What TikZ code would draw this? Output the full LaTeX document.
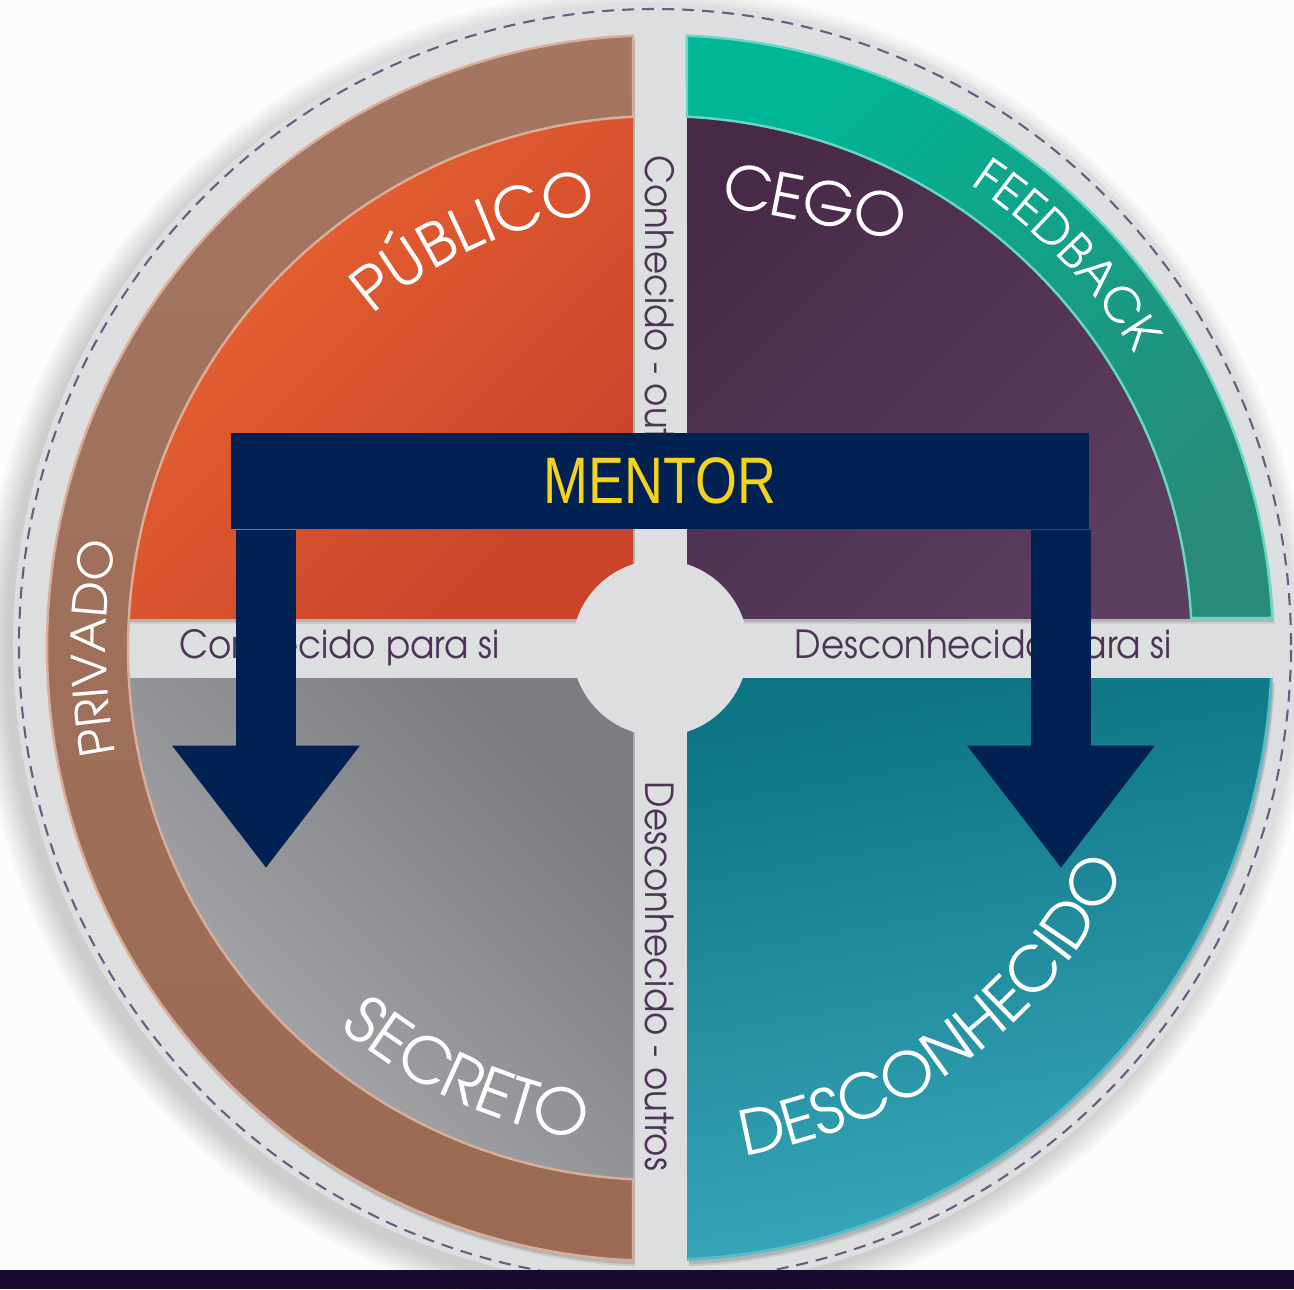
\documentclass[tikz,border=0pt]{standalone}
\usepackage{fontspec}
\usetikzlibrary{positioning,arrows.meta,decorations.text}
\IfFontExistsTF{texgyreadventor-regular.otf}
  {\newfontfamily\gothic{texgyreadventor-regular.otf}}
  {\newfontfamily\gothic{Poppins}}
\newfontfamily\narrowsans{Liberation Sans}[FakeStretch=0.82]
\definecolor{pubA}{HTML}{F26C33}
\definecolor{pubB}{HTML}{C9442B}
\definecolor{cegA}{HTML}{472946}
\definecolor{cegB}{HTML}{5D3E63}
\definecolor{secA}{HTML}{7B7C80}
\definecolor{secB}{HTML}{B7B8BC}
\definecolor{desA}{HTML}{0C7482}
\definecolor{desB}{HTML}{3BA9BE}
\definecolor{desEdge}{HTML}{58BCCB}
\definecolor{brownA}{HTML}{A47561}
\definecolor{brownB}{HTML}{B5856C}
\definecolor{brownC}{HTML}{9A6A54}
\definecolor{brownEdge}{HTML}{D8AE9B}
\definecolor{fbA}{HTML}{00B697}
\definecolor{fbB}{HTML}{288A79}
\definecolor{fbEdge}{HTML}{66D8C3}
\definecolor{band}{HTML}{DDDEE0}
\definecolor{dashc}{HTML}{6E5A80}
\definecolor{bandtxt}{HTML}{4B3454}
\definecolor{navy}{HTML}{002152}
\definecolor{gold}{HTML}{F3D320}
\definecolor{floor}{HTML}{190B30}

\begin{document}
\begin{tikzpicture}[lbl/.style={font=\gothic\addfontfeatures{FakeStretch=0.92}\fontsize{11}{11}\selectfont, text=bandtxt, inner sep=0pt},
  arctxt/.style={decorate, decoration={text along path, text align=center, text={#1}}},
  bigarrow/.style={draw=navy, line width=0.60cm, -{Triangle[width=1.88cm, length=1.22cm, line width=0pt]}}]
\useasboundingbox (-6.60,-6.41) rectangle (6.34,6.48);
\fill[white!99!black] (-6.60,-6.41) rectangle (6.34,6.48);
% disk and its shadow
\foreach \i in {1,...,8}{\fill[black, opacity=0.022] (-0.14,-0.06) circle (6.38+0.035*\i);}
\fill[band] (-0.05,0.03) circle (6.42);
\draw[dashc, dash pattern=on 0.12cm off 0.08cm, line width=0.6pt] (-0.05,0.03) circle (6.36);
% quadrants with a soft shadow
\foreach \sx/\sy/\ca/\cb/\ang in {-1/1/pubA/pubB/45, 1/1/cegA/cegB/45, -1/-1/secA/secB/-45, 1/-1/desA/desB/10}{
  \foreach \d/\o in {0.06/0.08, 0.04/0.12}{
    \begin{scope}[shift={(\d*0.4,-\d)}]
      \clip (0,0) circle (6.13);
      \fill[black, opacity=\o] (\sx*0.27,\sy*0.30) rectangle (\sx*6.2,\sy*6.2);
    \end{scope}
  }
  \begin{scope}
    \clip (0,0) circle (6.13);
    \shade[top color=\ca, bottom color=\cb, shading angle=\ang] (\sx*0.27,\sy*0.30) rectangle (\sx*6.2,\sy*6.2);
  \end{scope}
}
\draw[desEdge, line width=0.8pt] (-2.81:6.12) arc[start angle=-2.81, end angle=-87.48, radius=6.12];
\fill[band] (0,0) circle (0.88);
% rings
\shadedraw[top color=brownA, middle color=brownB, bottom color=brownC, draw=brownEdge, line width=0.7pt]
  (92.52:6.13) arc[start angle=92.52, end angle=267.48, radius=6.13] -- (267.09:5.32)
  arc[start angle=267.09, end angle=92.91, radius=5.32] -- cycle;
\shadedraw[top color=fbA, bottom color=fbB, shading angle=45, draw=fbEdge, line width=0.7pt]
  (87.48:6.13) arc[start angle=87.48, end angle=2.81, radius=6.13] -- (3.23:5.32)
  arc[start angle=3.23, end angle=87.09, radius=5.32] -- cycle;
% curved titles
\path[arctxt={|\gothic\fontsize{17}{17}\selectfont\color{white}|PÚBLICO}] (144:4.40) arc[start angle=144, end angle=85, radius=4.40];
\path[arctxt={|\gothic\fontsize{13.5}{13.5}\selectfont\color{white}|FEEDBACK}] (74:5.58) arc[start angle=74, end angle=14, radius=5.58];
\path[arctxt={|\gothic\fontsize{13.5}{13.5}\selectfont\color{white}|PRIVADO}] (205:5.54) arc[start angle=205, end angle=155, radius=5.54];
\path[arctxt={|\gothic\fontsize{18}{18}\selectfont\color{white}|SECRETO}] (215:4.97) arc[start angle=215, end angle=276, radius=4.97];
\path[arctxt={|\gothic\fontsize{17.5}{17.5}\selectfont\color{white}|DESCONHECIDO}] (267:5.15) arc[start angle=267, end angle=347, radius=5.15];
\node[rotate=-11, text=white, font=\gothic\fontsize{17}{17}\selectfont] (cego) at (1.55,4.47) {CEGO};
% band labels
\node[lbl, anchor=base west] (cps) at (-4.81,-0.10) {Conhecido para si};
\node[lbl, anchor=base west] (dps) at (1.34,-0.10) {Desconhecido para si};
\node[lbl, anchor=base west, rotate=-90] (co) at (-0.15,4.93) {Conhecido - outros};
\node[lbl, anchor=base west, rotate=-90] (do) at (-0.15,-1.33) {Desconhecido - outros};
% mentor
\node[fill=navy, minimum width=8.57cm, minimum height=0.96cm, inner sep=0pt, text=gold,
  font=\narrowsans\fontsize{18.7}{18.7}\selectfont] (mentor) at (0.00,1.67) {MENTOR};
\coordinate (ltip) at (-3.94,-2.195);
\coordinate (rtip) at (4.01,-2.195);
\draw[bigarrow] (mentor.south -| ltip) -- (ltip);
\draw[bigarrow] (mentor.south -| rtip) -- (rtip);
\fill[floor] (-6.60,-6.22) rectangle (6.34,-6.41);
\end{tikzpicture}
\end{document}
